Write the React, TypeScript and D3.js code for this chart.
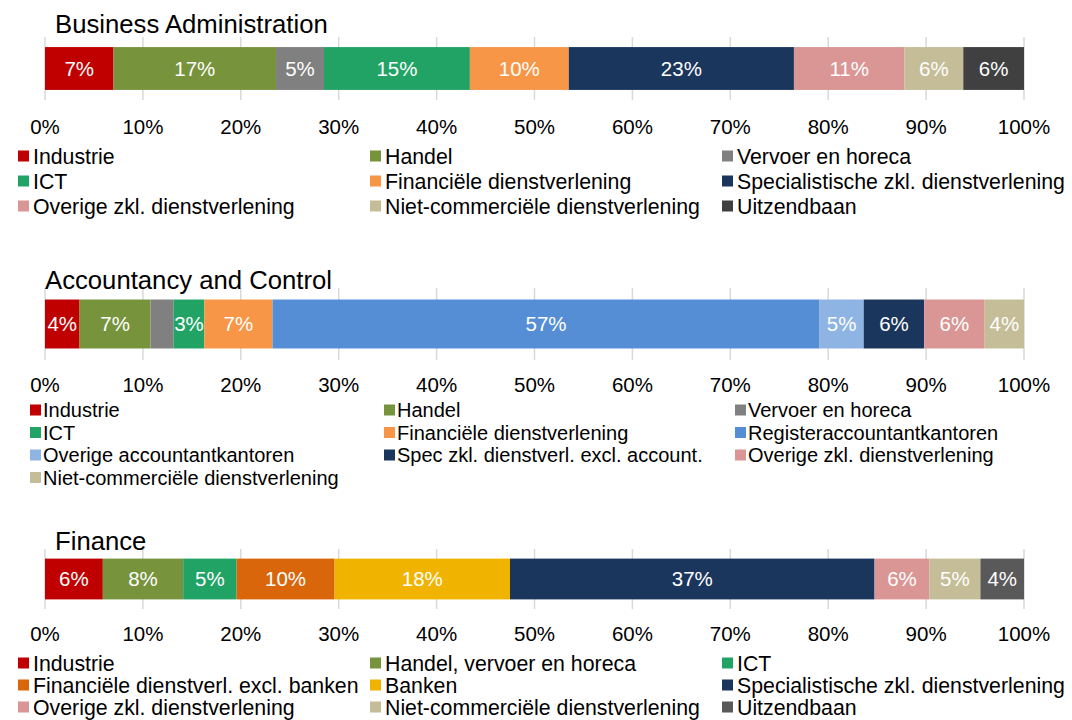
import React from "react";
import * as d3 from "d3";

// ---------- data ----------
const baTitle = "Business Administration";
const baCategories = [
  "Industrie",
  "Handel",
  "Vervoer en horeca",
  "ICT",
  "Financiële dienstverlening",
  "Specialistische zkl. dienstverlening",
  "Overige zkl. dienstverlening",
  "Niet-commerciële dienstverlening",
  "Uitzendbaan",
];
const baValues = [7.0, 16.6, 4.9, 14.9, 10.1, 23.0, 11.3, 6.0, 6.2];
const baColors = ["#C00000", "#77933C", "#808080", "#21A366", "#F79646", "#1B365D", "#D99694", "#C4BD97", "#404040"];

const acTitle = "Accountancy and Control";
const acCategories = [
  "Industrie",
  "Handel",
  "Vervoer en horeca",
  "ICT",
  "Financiële dienstverlening",
  "Registeraccountantkantoren",
  "Overige accountantkantoren",
  "Spec zkl. dienstverl. excl. account.",
  "Overige zkl. dienstverlening",
  "Niet-commerciële dienstverlening",
];
const acValues = [3.6, 7.4, 2.4, 3.2, 7.1, 57.0, 4.6, 6.3, 6.3, 4.1];
const acColors = ["#C00000", "#77933C", "#808080", "#21A366", "#F79646", "#558ED5", "#8EB4E3", "#1B365D", "#D99694", "#C4BD97"];

const fiTitle = "Finance";
const fiCategories = [
  "Industrie",
  "Handel, vervoer en horeca",
  "ICT",
  "Financiële dienstverl. excl. banken",
  "Banken",
  "Specialistische zkl. dienstverlening",
  "Overige zkl. dienstverlening",
  "Niet-commerciële dienstverlening",
  "Uitzendbaan",
];
const fiValues = [5.9, 8.2, 5.45, 10.0, 17.9, 37.2, 5.6, 5.2, 4.45];
const fiColors = ["#C00000", "#77933C", "#21A366", "#D9660B", "#EFB300", "#1B365D", "#D99694", "#C4BD97", "#595959"];

const xTicks = [0, 0.1, 0.2, 0.3, 0.4, 0.5, 0.6, 0.7, 0.8, 0.9, 1.0];

// ---------- layout ----------
const FONT = "'Liberation Sans', Arial, Helvetica, sans-serif";
const W = 1072;
const H = 720;
const X0 = 45;
const X1 = 1024;

const panels = [
  {
    title: baTitle, categories: baCategories, values: baValues, colors: baColors,
    titleX: 55, titleY: 33, gridTop: 37, gridBottom: 100, tickY: 127,
    legendX: [18, 370, 722], legendTextDx: 15, legendY0: 156, legendDy: 25, legendSize: 21.3,
  },
  {
    title: acTitle, categories: acCategories, values: acValues, colors: acColors,
    titleX: 45, titleY: 289, gridTop: 288, gridBottom: 360, tickY: 385,
    legendX: [30, 384, 735], legendTextDx: 13, legendY0: 410, legendDy: 22.5, legendSize: 20,
  },
  {
    title: fiTitle, categories: fiCategories, values: fiValues, colors: fiColors,
    titleX: 55, titleY: 550, gridTop: 549, gridBottom: 609, tickY: 634,
    legendX: [18, 370, 722], legendTextDx: 15, legendY0: 663, legendDy: 22, legendSize: 21.3,
  },
];

const fmt = d3.format(".0%");

let measureCtx: CanvasRenderingContext2D | null = null;
function textWidth(s: string, size: number) {
  if (!measureCtx) {
    const c = document.createElement("canvas");
    measureCtx = c.getContext("2d");
  }
  if (!measureCtx) return s.length * size * 0.55;
  measureCtx.font = `${size}px ${FONT}`;
  return measureCtx.measureText(s).width;
}

function Panel({ p }: { p: (typeof panels)[number] }) {
  const x = d3.scaleLinear().domain([0, 1]).range([X0, X1]);
  const y = d3
    .scaleBand<string>()
    .domain([p.title])
    .range([p.gridTop, p.gridBottom])
    .paddingInner(0.32)
    .paddingOuter(0.16);

  const keys = p.categories.map((_, i) => String(i));
  const row: Record<string, number> = {};
  p.values.forEach((v, i) => (row[String(i)] = v));
  const series = d3.stack<Record<string, number>>().keys(keys).offset(d3.stackOffsetExpand)([row]);

  const by = y(p.title) ?? 0;
  const bh = y.bandwidth();
  const labelSize = 20.5;

  return (
    <g>
      {xTicks.map((t) => (
        <line key={"g" + t} x1={x(t)} x2={x(t)} y1={p.gridTop} y2={p.gridBottom} stroke="#D9D9D9" strokeWidth={1.5} />
      ))}
      <text x={p.titleX} y={p.titleY} fontSize={25.7} fontFamily={FONT} fill="#000">
        {p.title}
      </text>
      {series.map((s, i) => {
        const d = s[0];
        const xa = x(d[0]);
        const xb = x(d[1]);
        const label = fmt(p.values[i] / 100);
        const tw = textWidth(label, labelSize);
        return (
          <g key={"s" + i}>
            <rect x={xa} y={by} width={Math.max(0, xb - xa)} height={bh} fill={p.colors[i]} />
            {tw <= xb - xa + 1 && (
              <text
                x={(xa + xb) / 2}
                y={by + bh / 2}
                dy="0.36em"
                textAnchor="middle"
                fontSize={labelSize}
                fontFamily={FONT}
                fill="#FFFFFF"
              >
                {label}
              </text>
            )}
          </g>
        );
      })}
      {xTicks.map((t) => (
        <text key={"t" + t} x={x(t)} y={p.tickY} dy="0.36em" textAnchor="middle" fontSize={20.5} fontFamily={FONT} fill="#000">
          {fmt(t)}
        </text>
      ))}
      {p.categories.map((c, i) => {
        const col = i % 3;
        const r = Math.floor(i / 3);
        const lx = p.legendX[col];
        const ly = p.legendY0 + r * p.legendDy;
        return (
          <g key={"l" + i}>
            <rect x={lx} y={ly - 5.5} width={11} height={11} fill={p.colors[i]} />
            <text x={lx + p.legendTextDx} y={ly} dy="0.36em" fontSize={p.legendSize} fontFamily={FONT} fill="#000">
              {c}
            </text>
          </g>
        );
      })}
    </g>
  );
}

export default function App() {
  return (
    <svg
      width={W}
      height={H}
      viewBox={`0 0 ${W} ${H}`}
      style={{ position: "absolute", left: 0, top: 0, background: "#fff" }}
    >
      <rect x={0} y={0} width={W} height={H} fill="#fff" />
      {panels.map((p, i) => (
        <Panel key={i} p={p} />
      ))}
    </svg>
  );
}
